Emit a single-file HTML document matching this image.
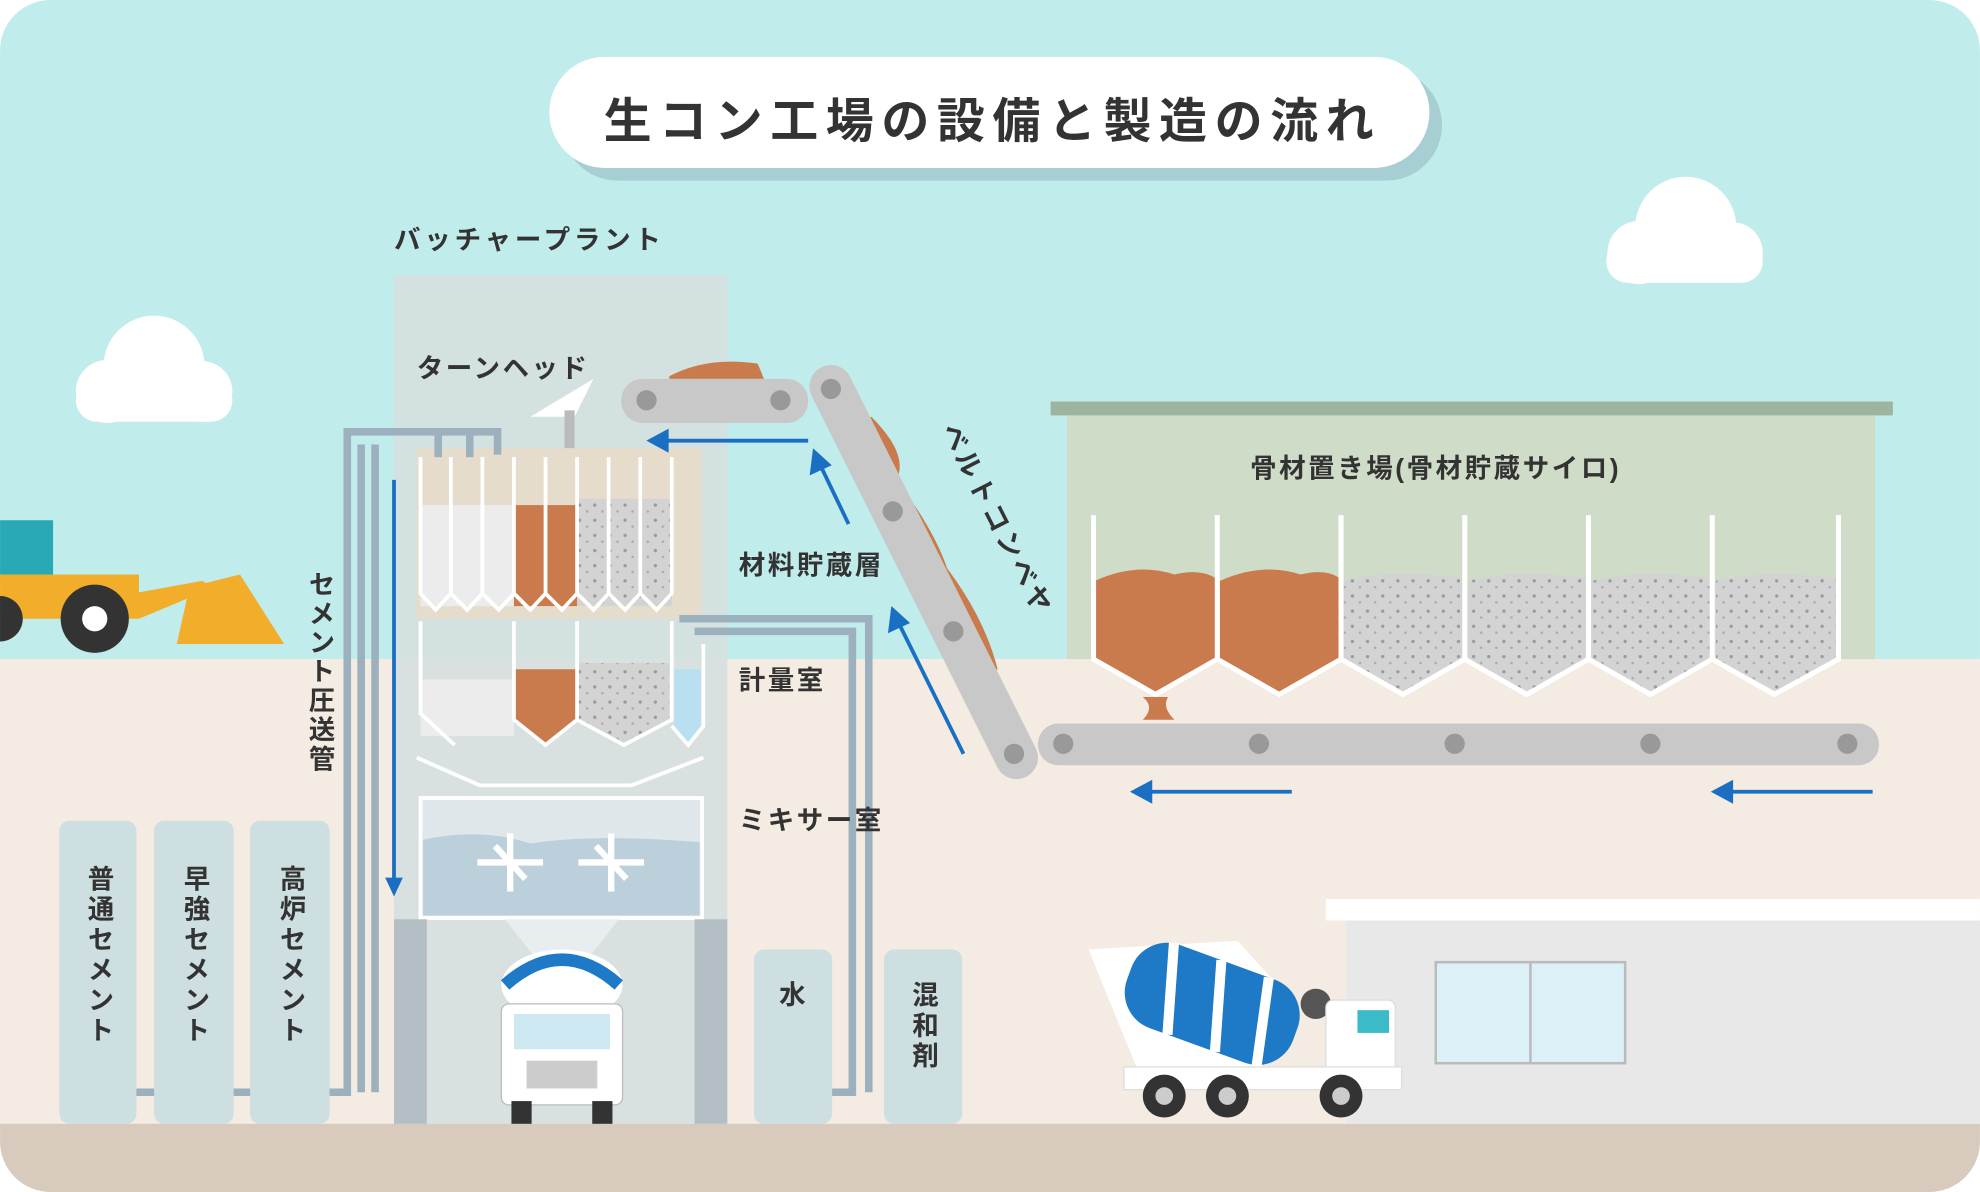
<!DOCTYPE html>
<html><head><meta charset="utf-8"><style>
html,body{margin:0;padding:0;background:#fff;}
svg{display:block;}
text{font-family:"Liberation Sans","Noto Sans CJK JP",sans-serif;fill:#333;font-weight:bold;}
</style></head><body>
<svg width="1980" height="1192" viewBox="0 0 1568 944" xmlns="http://www.w3.org/2000/svg">
<defs>
<clipPath id="c"><rect x="0" y="0" width="1568" height="944" rx="40"/></clipPath>
<pattern id="dots" width="12" height="12" patternUnits="userSpaceOnUse"><rect width="12" height="12" fill="#d3d3d3"/><circle cx="3" cy="4" r="1.3" fill="#999"/><circle cx="9" cy="9" r="1" fill="#aaa"/></pattern>
</defs>
<g clip-path="url(#c)">
<rect x="0" y="0" width="1568" height="522" fill="#c0ecec"/>
<rect x="0" y="522" width="1568" height="370" fill="#f4ebe2"/>
<rect x="0" y="890" width="1568" height="54" fill="#d8cbbd"/>

<!-- title -->
<rect x="445" y="55" width="697" height="88" rx="44" fill="#a7cfd3"/>
<rect x="435" y="45" width="697" height="88" rx="44" fill="#fff"/>
<text x="478" y="109" font-size="38" letter-spacing="6">生コン工場の設備と製造の流れ</text>

<!-- clouds -->
<g fill="#fff"><circle cx="122" cy="290" r="40"/><circle cx="85" cy="310" r="25"/><circle cx="160" cy="310" r="24"/><rect x="60" y="300" width="124" height="34" rx="17"/></g>
<g fill="#fff"><circle cx="1335" cy="180" r="40"/><circle cx="1298" cy="200" r="25"/><circle cx="1372" cy="200" r="24"/><rect x="1272" y="190" width="124" height="34" rx="17"/></g>

<!-- warehouse -->
<rect x="832" y="318" width="667" height="11" fill="#9db59f"/>
<rect x="845" y="329" width="640" height="193" fill="#cfdcc8"/>
<text x="990" y="378" font-size="21" letter-spacing="2">骨材置き場(骨材貯蔵サイロ)</text>
<g>
<path d="M867 460 Q900 445 930 455 Q950 450 963 458 L963 522 L915 548 L867 522Z" fill="#c97b4d"/>
<path d="M966 460 Q1000 445 1030 455 Q1050 450 1061 458 L1061 522 L1013 548 L966 522Z" fill="#c97b4d"/>
<path d="M1064 460 Q1100 450 1160 458 L1160 522 L1112 548 L1064 522Z" fill="url(#dots)"/>
<path d="M1163 460 Q1200 450 1258 458 L1258 522 L1210 548 L1163 522Z" fill="url(#dots)"/>
<path d="M1261 460 Q1300 450 1356 458 L1356 522 L1308 548 L1261 522Z" fill="url(#dots)"/>
<path d="M1359 460 Q1400 450 1455 458 L1455 522 L1407 548 L1359 522Z" fill="url(#dots)"/>
<g stroke="#fff" stroke-width="4" fill="none">
<path d="M866 408 V522 L915 550 L964 522 V408"/><path d="M964 522 L1013 550 L1062 522 V408"/><path d="M1062 522 L1111 550 L1160 522 V408"/><path d="M1160 522 L1209 550 L1258 522 V408"/><path d="M1258 522 L1307 550 L1356 522 V408"/><path d="M1356 522 L1405 550 L1456 522 V408"/>
</g>
<path d="M905 552 Q915 560 905 570 L930 570 Q920 560 925 552Z" fill="#c97b4d"/>
</g>

<!-- batcher plant -->
<text x="312" y="197" font-size="21" letter-spacing="3">バッチャープラント</text>
<rect x="312" y="218" width="264" height="672" fill="#d6e0e0" opacity="0.9"/>
<text x="330" y="299" font-size="21" letter-spacing="2">ターンヘッド</text>
<path d="M420 330 L470 300 L455 330Z" fill="#fff"/>
<rect x="447" y="325" width="8" height="30" fill="#bbb"/>
<rect x="330" y="355" width="226" height="135" fill="#e5dccb"/>
<rect x="333" y="400" width="74" height="80" fill="#ececec"/>
<rect x="407" y="400" width="50" height="80" fill="#c97b4d"/>
<rect x="457" y="395" width="75" height="85" fill="url(#dots)"/>
<g stroke="#fff" stroke-width="3" fill="none">
<path d="M333 362 V470 L345 483 L357 470 V362 M357 470 L370 483 L382 470 V362 M382 470 L395 483 L407 470 V362 M407 470 L420 483 L432 470 V362 M432 470 L445 483 L457 470 V362 M457 470 L470 483 L482 470 V362 M482 470 L495 483 L507 470 V362 M507 470 L520 483 L532 470 V362"/>
</g>
<rect x="333" y="538" width="74" height="45" fill="#ececec"/>
<path d="M407 530 L457 530 L457 570 L432 588 L407 570Z" fill="#c97b4d"/>
<path d="M457 525 L530 525 L530 570 L494 588 L457 570Z" fill="url(#dots)"/>
<path d="M534 530 L555 530 L555 578 L545 588 L534 578Z" fill="#b8e0f0"/>
<g stroke="#fff" stroke-width="3" fill="none">
<path d="M333 492 V565 L360 590 M407 492 V570 L432 590 L457 570 V492 M457 570 L494 590 L532 570 V492 M532 575 L545 590 L557 575 V510"/>
<path d="M330 600 L380 622 L500 622 L557 600"/>
</g>
<rect x="333" y="632" width="223" height="95" fill="#dfe7ea" stroke="#fff" stroke-width="3"/>
<path d="M335 665 Q380 655 420 668 Q470 660 554 667 V725 H335Z" fill="#bcd0dc"/>
<g stroke="#fff" stroke-width="5" fill="none">
<path d="M378 683 H430 M404 660 V706 M392 670 Q404 683 416 696"/>
<path d="M458 683 H510 M484 660 V706 M472 670 Q484 683 496 696"/>
</g>
<rect x="312" y="728" width="26" height="162" fill="#b3bfc5"/>
<rect x="550" y="728" width="26" height="162" fill="#b3bfc5"/>
<path d="M400 728 L490 728 L465 760 L425 760Z" fill="#e8eef0"/>

<!-- cement pipes -->
<g stroke="#9cb0be" stroke-width="6" fill="none">
<path d="M100 865 H275 V342 H394 V360 M286 865 V352 M297 865 V352 M347 342 V362 M372 342 V362"/>
<path d="M538 490 H688 V865 M550 500 H675 V865 H655"/>
</g>
<path d="M312 380 V700" stroke="#1a6fc2" stroke-width="3"/>
<path d="M305 695 L312 710 L319 695Z" fill="#1a6fc2"/>
<text font-size="21" writing-mode="tb" x="253" y="452" letter-spacing="2">セメント圧送管</text>

<!-- silos -->
<rect x="47" y="650" width="61" height="240" rx="8" fill="#cddfe0"/>
<rect x="122" y="650" width="63" height="240" rx="8" fill="#cddfe0"/>
<rect x="198" y="650" width="63" height="240" rx="8" fill="#cddfe0"/>
<text font-size="21" writing-mode="tb" x="78" y="685" letter-spacing="3">普通セメント</text>
<text font-size="21" writing-mode="tb" x="154" y="685" letter-spacing="3">早強セメント</text>
<text font-size="21" writing-mode="tb" x="230" y="685" letter-spacing="3">高炉セメント</text>
<rect x="597" y="752" width="62" height="138" rx="8" fill="#cddfe0"/>
<rect x="700" y="752" width="62" height="138" rx="8" fill="#cddfe0"/>
<text x="617" y="795" font-size="21">水</text>
<text font-size="21" writing-mode="tb" x="731" y="777" letter-spacing="3">混和剤</text>

<!-- conveyors -->
<path d="M530 298 Q560 282 600 288 L605 300 L530 300Z" fill="#c97b4d"/>
<rect x="492" y="300" width="148" height="35" rx="17" fill="#c8c8c8"/>
<circle cx="512" cy="317" r="8" fill="#999"/><circle cx="618" cy="317" r="8" fill="#999"/>
<path d="M690 330 Q720 360 710 380 Q740 420 750 450 Q780 490 790 530 L770 540 L680 340Z" fill="#c97b4d"/>
<path d="M658 306 L805 600" stroke="#c8c8c8" stroke-width="34" stroke-linecap="round"/>
<g fill="#999"><circle cx="658" cy="308" r="8"/><circle cx="707" cy="405" r="8"/><circle cx="755" cy="500" r="8"/><circle cx="803" cy="597" r="8"/></g>
<rect x="822" y="573" width="666" height="33" rx="16" fill="#c8c8c8"/>
<g fill="#999"><circle cx="842" cy="589" r="8"/><circle cx="997" cy="589" r="8"/><circle cx="1152" cy="589" r="8"/><circle cx="1307" cy="589" r="8"/><circle cx="1463" cy="589" r="8"/></g>
<text x="585" y="455" font-size="21" letter-spacing="2">材料貯蔵層</text>
<text x="585" y="546" font-size="21" letter-spacing="2">計量室</text>
<text x="585" y="657" font-size="21" letter-spacing="2">ミキサー室</text>
<text font-size="21" letter-spacing="3" transform="translate(745 340) rotate(63)">ベルトコンベヤ</text>

<!-- arrows -->
<g stroke="#1a6fc2" stroke-width="3" fill="#1a6fc2">
<path d="M640 349 H520" /><path d="M515 349 L528 342 L528 356Z"/>
<path d="M672 415 L648 365"/><path d="M645 358 L643 374 L656 368Z"/>
<path d="M763 597 L710 490"/><path d="M707 483 L705 499 L718 493Z"/>
<path d="M1023 627 H905"/><path d="M898 627 L911 620 L911 634Z"/>
<path d="M1483 627 H1365"/><path d="M1358 627 L1371 620 L1371 634Z"/>
</g>

<!-- building right -->
<rect x="1050" y="712" width="518" height="17" fill="#fff"/>
<rect x="1066" y="729" width="502" height="161" fill="#e8e8e8"/>
<rect x="1137" y="762" width="150" height="80" fill="#dcf0f8" stroke="#bbb" stroke-width="2"/>
<path d="M1212 762 V842" stroke="#bbb" stroke-width="2"/>

<!-- mixer truck right -->
<path d="M862 752 L980 745 L1030 800 L990 845 L900 845Z" fill="#fff"/>
<g transform="rotate(20 960 795)"><rect x="890" y="760" width="140" height="70" rx="30" fill="#1e7ac7"/><path d="M915 760 L935 830 M955 760 L975 830 M995 760 L1010 830" stroke="#fff" stroke-width="8"/></g>
<circle cx="1042" cy="795" r="12" fill="#555"/>
<rect x="1050" y="792" width="55" height="58" rx="6" fill="#fff" stroke="#ddd"/>
<rect x="1075" y="800" width="25" height="18" fill="#3bbbc8"/>
<rect x="890" y="845" width="220" height="18" fill="#fff" stroke="#ddd"/>
<g fill="#333"><circle cx="922" cy="868" r="17"/><circle cx="972" cy="868" r="17"/><circle cx="1062" cy="868" r="17"/></g>
<g fill="#ccc"><circle cx="922" cy="868" r="7"/><circle cx="972" cy="868" r="7"/><circle cx="1062" cy="868" r="7"/></g>

<!-- front truck -->
<ellipse cx="445" cy="780" rx="48" ry="28" fill="#fff"/>
<path d="M400 780 Q445 740 490 780" fill="none" stroke="#1e7ac7" stroke-width="10"/>
<rect x="397" y="795" width="96" height="80" rx="6" fill="#fff" stroke="#bbb"/>
<rect x="407" y="803" width="76" height="28" fill="#cde8f0"/>
<rect x="417" y="840" width="56" height="22" fill="#ccc"/>
<rect x="405" y="872" width="16" height="18" fill="#333"/><rect x="469" y="872" width="16" height="18" fill="#333"/>

<!-- loader -->
<rect x="0" y="412" width="42" height="45" fill="#29a9b5"/>
<rect x="0" y="455" width="110" height="35" fill="#f2ad2a"/>
<path d="M105 470 L160 460 L170 465 L110 490Z" fill="#f2ad2a"/>
<path d="M150 465 L190 455 L225 510 L140 510Z" fill="#f2ad2a"/>
<circle cx="75" cy="490" r="27" fill="#333"/><circle cx="75" cy="490" r="10" fill="#fff"/>
<circle cx="0" cy="490" r="18" fill="#333"/>
</g>
</svg>
</body></html>
